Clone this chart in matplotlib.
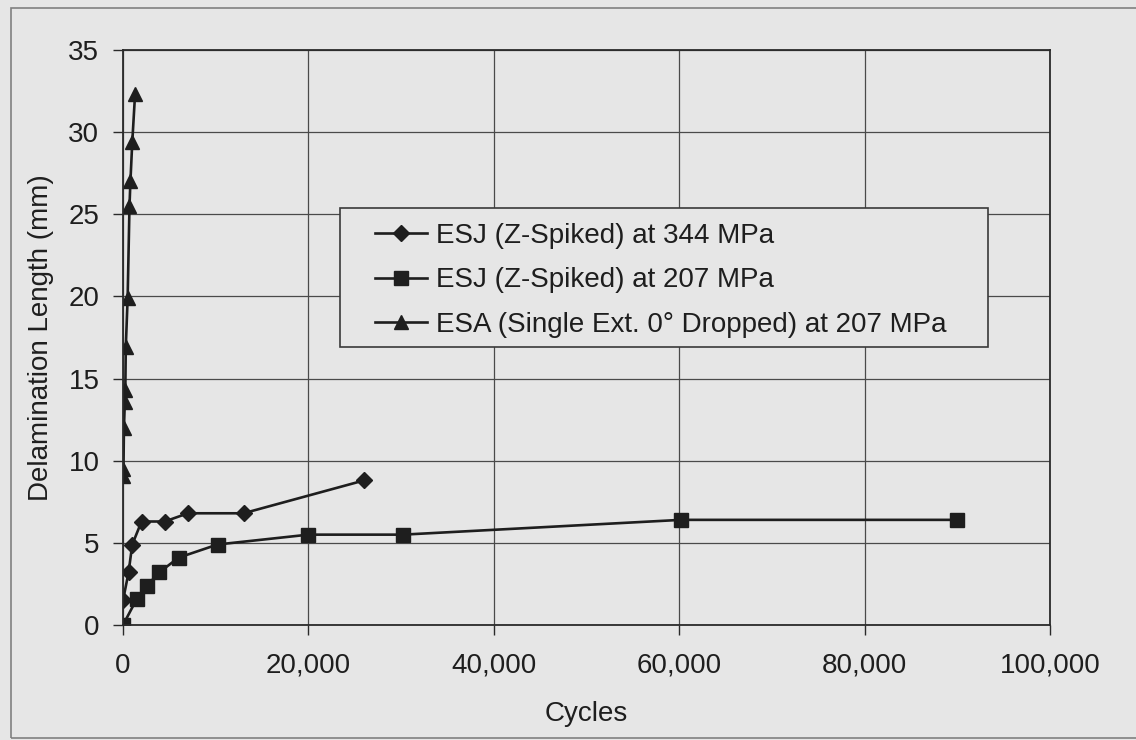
"""Delamination length vs. cycles for z-spiked and dropped-ply specimens."""

import matplotlib

matplotlib.use("Agg", force=True)

import matplotlib.pyplot as plt
from matplotlib.patches import Rectangle
from matplotlib.ticker import FuncFormatter, MultipleLocator

# ESJ (Z-Spiked) at 344 MPa
esj344_cycles = [0, 600, 1000, 2000, 4500, 7000, 13000, 26000]
esj344_length = [1.5, 3.2, 4.9, 6.3, 6.3, 6.8, 6.8, 8.8]

# ESJ (Z-Spiked) at 207 MPa
esj207_cycles = [0, 1500, 2600, 3900, 6000, 10200, 20000, 30200, 60200, 90000]
esj207_length = [0.0, 1.6, 2.4, 3.2, 4.1, 4.9, 5.5, 5.5, 6.4, 6.4]

# ESA (Single Ext. 0° Dropped) at 207 MPa
esa_cycles = [0, 50, 100, 200, 250, 300, 500, 700, 800, 1000, 1300]
esa_length = [9.1, 9.5, 12.0, 13.6, 14.3, 16.9, 19.9, 25.5, 27.0, 29.4, 32.3]

labels = [
    "ESJ (Z-Spiked) at 344 MPa",
    "ESJ (Z-Spiked) at 207 MPa",
    "ESA (Single Ext. 0° Dropped) at 207 MPa",
]

BG = "#e6e6e6"
INK = "#1e1e1e"
FS = 20

W, H = 1136, 740
AX_L, AX_R, AX_T, AX_B = 123, 1050, 50, 625


def _ax_x(px: float) -> float:
    return (px - AX_L) / (AX_R - AX_L)


def _ax_y(py: float) -> float:
    return (AX_B - py) / (AX_B - AX_T)


plt.rcParams["font.family"] = ["Liberation Sans", "DejaVu Sans"]

fig = plt.figure(figsize=(W / 100, H / 100), dpi=100, facecolor=BG)
ax = fig.add_axes([AX_L / W, (H - AX_B) / H, (AX_R - AX_L) / W, (AX_B - AX_T) / H])
ax.set_facecolor(BG)

# outer chart frame
fig.patches.append(Rectangle((11 / W, 2 / H), 1.2, 730 / H, transform=fig.transFigure,
                             fill=False, edgecolor="#808080", linewidth=1.2))

line_kw = dict(color=INK, linewidth=1.9, markeredgecolor=INK, markerfacecolor=INK)
ax.plot(esj344_cycles, esj344_length, marker="D", markersize=8, label=labels[0], **line_kw)
ax.plot(esj207_cycles, esj207_length, marker="s", markersize=10, label=labels[1], **line_kw)
ax.plot(esa_cycles, esa_length, marker="^", markersize=10, label=labels[2], **line_kw)

ax.set_xlim(0, 100000)
ax.set_ylim(0, 35)
ax.xaxis.set_major_locator(MultipleLocator(20000))
ax.yaxis.set_major_locator(MultipleLocator(5))
ax.xaxis.set_major_formatter(FuncFormatter(lambda v, _: f"{int(v):,}"))
ax.grid(True, color="#4a4a4a", linewidth=0.9)
ax.set_axisbelow(True)
for spine in ax.spines.values():
    spine.set_color("#2a2a2a")
    spine.set_linewidth(1.3)

ax.tick_params(axis="both", direction="out", length=7, width=1.0, color="#2a2a2a",
               labelsize=FS, labelcolor=INK)
ax.tick_params(axis="x", pad=13)
ax.tick_params(axis="y", pad=10)

ax.set_xlabel("Cycles", fontsize=FS, color=INK, labelpad=16)
ax.set_ylabel("Delamination Length (mm)", fontsize=FS, color=INK, labelpad=10)

# legend box (drawn separately so its padding can be wider than tall)
ax.add_patch(Rectangle((_ax_x(340), _ax_y(347)), _ax_x(988) - _ax_x(340), _ax_y(208) - _ax_y(347),
                       transform=ax.transAxes, facecolor=BG, edgecolor="#3a3a3a",
                       linewidth=1.2, zorder=4))
legend = ax.legend(loc="upper left", bbox_to_anchor=(_ax_x(375), _ax_y(223)),
                   fontsize=FS, frameon=False, handlelength=1.87, handletextpad=0.32,
                   borderpad=0, labelspacing=0.66, borderaxespad=0)
legend.set_zorder(5)
for text in legend.get_texts():
    text.set_color(INK)

fig.savefig("out.png", dpi=100, facecolor=BG)
plt.close(fig)
